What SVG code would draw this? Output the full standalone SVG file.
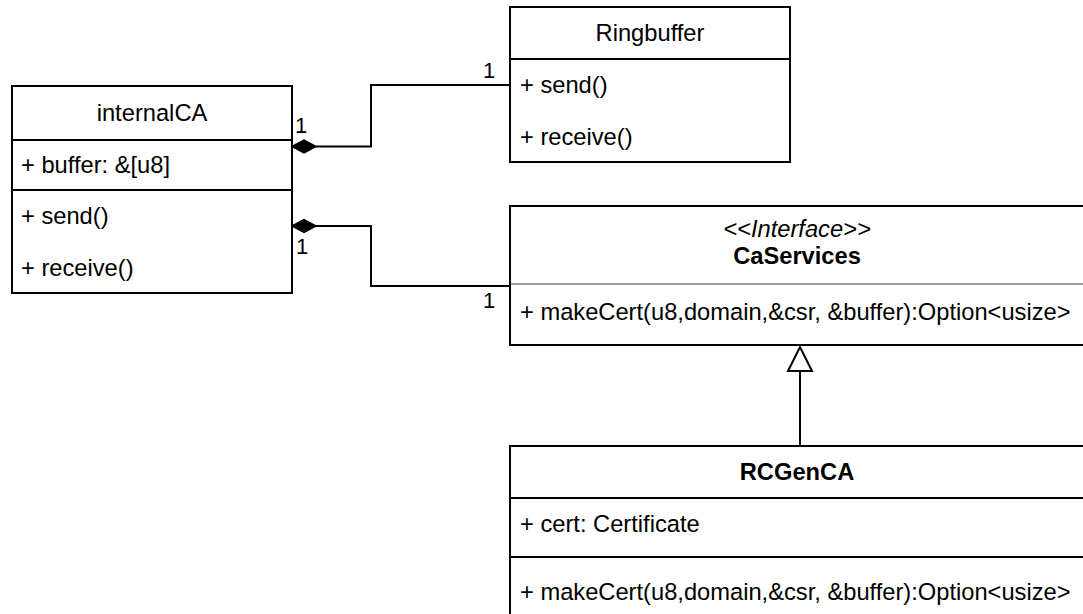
<svg xmlns="http://www.w3.org/2000/svg" width="1083" height="614" viewBox="0 0 1083 614">
  <style>
    .box { fill: #ffffff; stroke: #000000; stroke-width: 2; }
    .sep { stroke: #000000; stroke-width: 2; }
    .sep-light { stroke: #a0a0a0; stroke-width: 2; }
    .txt { font-family: "Liberation Sans", Arial, sans-serif; font-size: 23.7px; fill: #000000; }
    .title { text-anchor: middle; }
    .bold { font-weight: bold; }
    .ital { font-style: italic; }
    .mult { font-family: "Liberation Sans", Arial, sans-serif; font-size: 22px; fill: #000000; text-anchor: middle; }
    .edge { fill: none; stroke: #000000; stroke-width: 2; }
    .diamond { fill: #000000; stroke: #000000; stroke-width: 1.5; }
    .hollow { fill: #ffffff; stroke: #000000; stroke-width: 2; }
  </style>

  <!-- Connectors -->
  <g id="connectors">
    <!-- internalCA composes Ringbuffer -->
    <path class="edge" d="M316,146.5 H371 V85 H510"/>
    <polygon class="diamond" points="292,146.5 304,140 316,146.5 304,153"/>
    <text class="mult" x="301" y="133">1</text>
    <text class="mult" x="489" y="78">1</text>

    <!-- internalCA composes CaServices -->
    <path class="edge" d="M316,226 H371 V286 H510"/>
    <polygon class="diamond" points="292,226 304,219.5 316,226 304,232.5"/>
    <text class="mult" x="302" y="254">1</text>
    <text class="mult" x="489" y="308">1</text>

    <!-- RCGenCA realizes CaServices -->
    <path class="edge" d="M800,371 V446"/>
    <polygon class="hollow" points="800,347 788,371 812,371"/>
  </g>

  <!-- internalCA class -->
  <g id="internalCA">
    <rect class="box" x="12" y="86" width="280" height="207"/>
    <line class="sep" x1="12" y1="140" x2="292" y2="140"/>
    <line class="sep" x1="12" y1="190" x2="292" y2="190"/>
    <text class="txt title" x="152" y="121">internalCA</text>
    <text class="txt" x="21" y="173">+ buffer: &amp;[u8]</text>
    <text class="txt" x="21" y="224">+ send()</text>
    <text class="txt" x="21" y="276">+ receive()</text>
  </g>

  <!-- Ringbuffer class -->
  <g id="Ringbuffer">
    <rect class="box" x="510" y="7" width="280" height="155"/>
    <line class="sep" x1="510" y1="59" x2="790" y2="59"/>
    <text class="txt title" x="650" y="41">Ringbuffer</text>
    <text class="txt" x="520" y="93">+ send()</text>
    <text class="txt" x="520" y="145">+ receive()</text>
  </g>

  <!-- CaServices interface -->
  <g id="CaServices">
    <rect class="box" x="510" y="206" width="575" height="139"/>
    <line class="sep-light" x1="511" y1="284" x2="1085" y2="284"/>
    <text class="txt title ital" x="797" y="237">&lt;&lt;Interface&gt;&gt;</text>
    <text class="txt title bold" x="797" y="264">CaServices</text>
    <text class="txt" x="520" y="320">+ makeCert(u8,domain,&amp;csr, &amp;buffer):Option&lt;usize&gt;</text>
  </g>

  <!-- RCGenCA class -->
  <g id="RCGenCA">
    <rect class="box" x="510" y="446" width="575" height="200"/>
    <line class="sep" x1="510" y1="498" x2="1085" y2="498"/>
    <line class="sep" x1="510" y1="557" x2="1085" y2="557"/>
    <text class="txt title bold" x="797" y="480">RCGenCA</text>
    <text class="txt" x="520" y="532">+ cert: Certificate</text>
    <text class="txt" x="520" y="600">+ makeCert(u8,domain,&amp;csr, &amp;buffer):Option&lt;usize&gt;</text>
  </g>
</svg>
